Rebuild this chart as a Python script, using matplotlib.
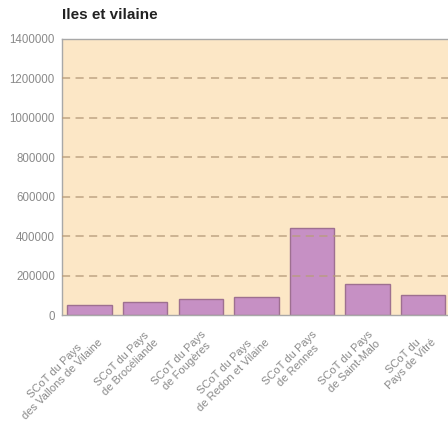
import matplotlib
matplotlib.use("Agg")
import matplotlib.pyplot as plt

categories = [
    "SCoT du Pays\ndes Vallons de Vilaine",
    "SCoT du Pays\nde Brocéliande",
    "SCoT du Pays\nde Fougères",
    "SCoT du Pays\nde Redon et Vilaine",
    "SCoT du Pays\nde Rennes",
    "SCoT du Pays\nde Saint-Malo",
    "SCoT du\nPays de Vitré",
]
values = [51000, 66000, 80000, 90000, 441000, 158000, 102000]
yticks = [0, 200000, 400000, 600000, 800000, 1000000, 1200000, 1400000]
title = "Iles et vilaine"

FONT = ["Liberation Sans", "DejaVu Sans"]

fig = plt.figure(figsize=(4.48, 4.23), dpi=100)
ax = fig.add_axes([0.138, 0.255, 0.862, 0.653])
ax.set_facecolor("#FCE7C6")

x = list(range(len(categories)))
ax.bar(x, values, width=0.8, color="#C690C4", edgecolor="#9E7090", linewidth=1.0, zorder=2)

ax.set_xlim(-0.5, 6.45)
ax.set_ylim(0, 1400000)
ax.set_yticks(yticks)
ax.set_yticklabels([str(v) for v in yticks], family=FONT, fontsize=8.3, color="#8A8A8A")
for v in yticks[1:-1]:
    ax.axhline(v, color="#B89C7C", alpha=0.75, linestyle=(0, (4.5, 3)), linewidth=1.3, zorder=3)

ax.set_xticks(x)
ax.set_xticklabels(categories, rotation=45, ha="right", va="top", rotation_mode="anchor",
                   family=FONT, fontsize=8, color="#8A8A8A", multialignment="center")
ax.tick_params(axis="x", length=0, pad=10)
ax.tick_params(axis="y", length=0, pad=5)

for s in ["left", "top", "bottom"]:
    ax.spines[s].set_color("#A8A8A8")
    ax.spines[s].set_linewidth(1.0)
ax.spines["right"].set_visible(False)

fig.text(0.138, 0.965, title, fontsize=11, fontweight="bold", family=FONT,
         color="#222222", ha="left", va="center")

fig.savefig("out.png", dpi=100)
